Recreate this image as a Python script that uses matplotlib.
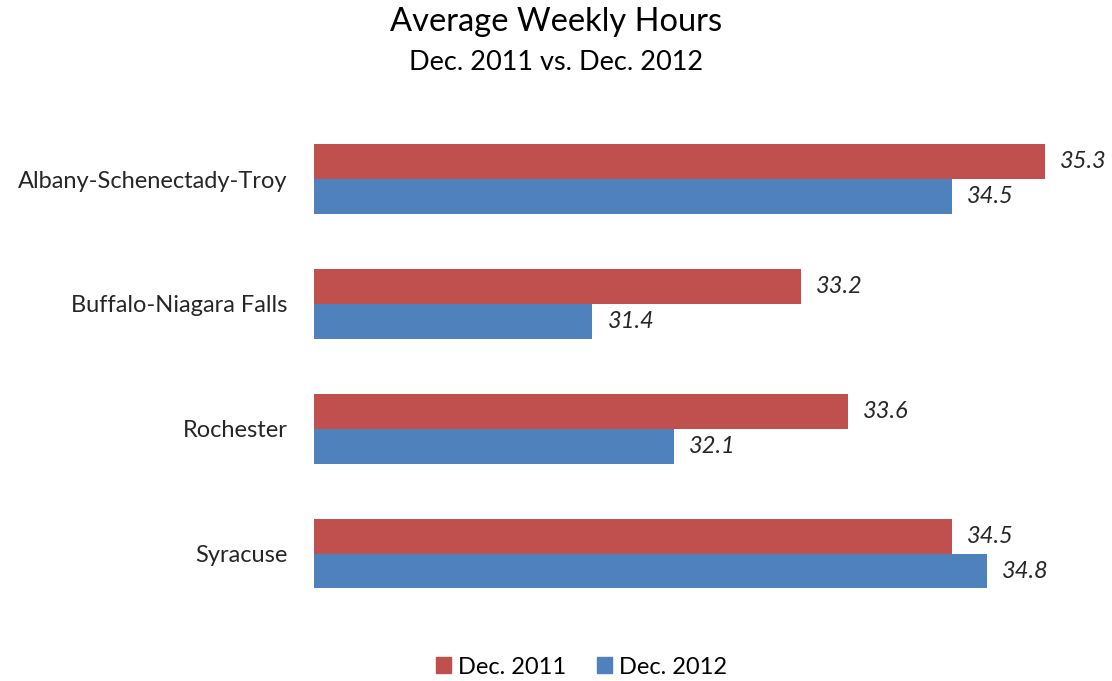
import matplotlib
matplotlib.use("Agg")
import matplotlib.pyplot as plt
from matplotlib.patches import Patch

categories = ["Albany-Schenectady-Troy", "Buffalo-Niagara Falls", "Rochester", "Syracuse"]
dec_2011 = [35.3, 33.2, 33.6, 34.5]
dec_2012 = [34.5, 31.4, 32.1, 34.8]
series_names = ["Dec. 2011", "Dec. 2012"]
title = "Average Weekly Hours"
subtitle = "Dec. 2011 vs. Dec. 2012"

plt.rcParams['font.family'] = ['Lato', 'DejaVu Sans']
red = "#C0504D"
blue = "#4F81BD"

fig = plt.figure(figsize=(11.12, 6.81), dpi=100)
ax = fig.add_axes([0.2824, 0.0955, 0.7176, 0.7333])

h = 0.28
ys = list(range(len(categories)))
ax.barh([y - h / 2 for y in ys], dec_2011, height=h, left=0, color=red, label=series_names[0])
ax.barh([y + h / 2 for y in ys], dec_2012, height=h, left=0, color=blue, label=series_names[1])

for y, v in zip(ys, dec_2011):
    ax.annotate(f"{v:.1f}", (v, y - h / 2), xytext=(15, 0), textcoords="offset pixels",
                va="center", ha="left", fontsize=17, style="italic", color="#262626")
for y, v in zip(ys, dec_2012):
    ax.annotate(f"{v:.1f}", (v, y + h / 2), xytext=(15, 0), textcoords="offset pixels",
                va="center", ha="left", fontsize=17, style="italic", color="#262626")

ax.set_xlim(29, 29 + 0.7176 * 1112 / 116)
ax.set_ylim(len(categories) - 0.5, -0.5)
ax.set_yticks(ys)
ax.set_yticklabels(categories, fontsize=17, color="#262626")
ax.tick_params(axis='y', length=0, pad=19)
ax.set_xticks([])
for s in ax.spines.values():
    s.set_visible(False)

fig.text(0.5, 1 - 22 / 681, title, ha="center", va="center", fontsize=23.5, color="#000000")
fig.text(0.5, 1 - 63 / 681, subtitle, ha="center", va="center", fontsize=19.5, color="#000000")

handles = [Patch(color=red, label=series_names[0]), Patch(color=blue, label=series_names[1])]
fig.legend(handles=handles, loc="center", bbox_to_anchor=(0.523, 1 - 667 / 681), ncol=2,
           frameon=False, fontsize=17, handlelength=0.65, handleheight=0.65,
           handletextpad=0.3, columnspacing=1.3)

fig.savefig("out.png", dpi=100)
